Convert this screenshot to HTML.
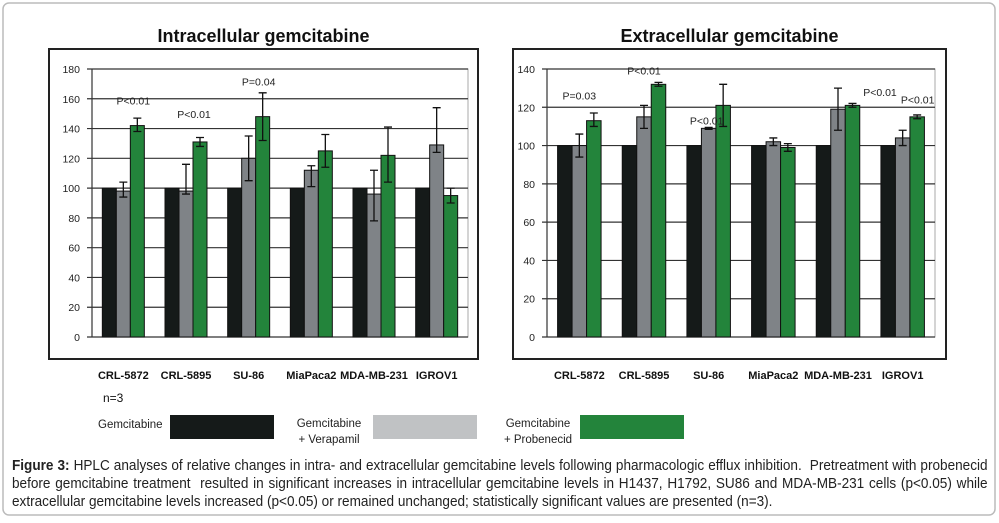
<!DOCTYPE html>
<html><head><meta charset="utf-8">
<style>
body{margin:0;width:999px;height:523px;background:#fff;overflow:hidden;font-family:"Liberation Sans",sans-serif;}
#cap{position:absolute;left:12px;top:457px;font-size:14.6px;line-height:18px;text-align:justify;color:#222;transform:scaleX(0.93);transform-origin:left top;width:1049px;}
</style></head><body>
<svg id="svg" width="999" height="523" style="position:absolute;left:0;top:0">
<rect x="3" y="3" width="992" height="512" rx="6" fill="#fff" stroke="#bbb" stroke-width="1.5"/>
</svg>
<div id="cap"><b>Figure 3:</b> HPLC analyses of relative changes in intra- and extracellular gemcitabine levels following pharmacologic efflux inhibition.&nbsp; Pretreatment with probenecid before gemcitabine treatment&nbsp; resulted in significant increases in intracellular gemcitabine levels in H1437, H1792, SU86 and MDA-MB-231 cells (p&lt;0.05) while extracellular gemcitabine levels increased (p&lt;0.05) or remained unchanged; statistically significant values are presented (n=3).</div>
<script>
const categories=["CRL-5872","CRL-5895","SU-86","MiaPaca2","MDA-MB-231","IGROV1"];
const intraGem=[100,100,100,100,100,100];
const intraVer=[98,98,120,112,96,129];
const intraVerUp=[104,116,135,115,112,154];
const intraVerLo=[94,96,105,101,78,124];
const intraPro=[142,131,148,125,122,95];
const intraProUp=[147,134,164,136,141,100];
const intraProLo=[138,128,132,114,104,90];
const intraTicks=[0,20,40,60,80,100,120,140,160,180];
const intraNotes=[["P<0.01",0,156],["P<0.01",1,147],["P=0.04",2,169]];
const extraGem=[100,100,100,100,100,100];
const extraVer=[100,115,109,102,119,104];
const extraVerUp=[106,121,109.5,104,130,108];
const extraVerLo=[94,109,108.5,100,108,100];
const extraPro=[113,132,121,99,121,115];
const extraProUp=[117,133,132,101,122,116];
const extraProLo=[110,131,110,97,120,114];
const extraTicks=[0,20,40,60,80,100,120,140];
const extraNotes=[["P=0.03",0,124,0],["P<0.01",1,137,0],["P<0.01",2,111,-2],["P<0.01",4,126,42],["P<0.01",5,122,15]];
const NS="http://www.w3.org/2000/svg";
const svg=document.getElementById('svg');
function mk(t,a,p){const e=document.createElementNS(NS,t);for(const k in a)e.setAttribute(k,a[k]);(p||svg).appendChild(e);return e;}
function chart(o){
  const g=mk('g',{});
  
  
  mk('rect',{x:o.fx,y:49,width:o.fw,height:310,fill:'#fff',stroke:'#222','stroke-width':2},g);
  const t=mk('text',{x:o.fx+o.fw/2,y:42,'text-anchor':'middle','font-size':'18','font-weight':'bold',fill:'#111'},g);t.textContent=o.title;
  
  
  const y0=337,y1=69,max=o.ticks[o.ticks.length-1];
  const Y=v=>y0-(v/max)*(y0-y1);
  const cw=(o.x1-o.x0)/categories.length;
  const X=i=>o.x0+i*cw;
  mk('rect',{x:o.x0,y:y1,width:o.x1-o.x0,height:y0-y1,fill:'#fff',stroke:'#aaa'},g);
  o.ticks.forEach(v=>{
    const l=mk('line',{x1:o.x0-5,x2:o.x1,y1:Y(v),y2:Y(v),stroke:'#333','stroke-width':1.2},g);
    
    
    const tx=mk('text',{x:o.x0-12,y:Y(v)+4,'text-anchor':'end','font-size':'10.5',fill:'#222'},g);tx.textContent=v;
    
    
  });
  mk('line',{x1:o.x0,x2:o.x0,y1:y1,y2:y0,stroke:'#333','stroke-width':1.2},g);
  const bw=o.bw, off=(cw-3*bw)/2;
  const series=[[o.gem,null,null,'#151a19'],[o.ver,o.verUp,o.verLo,'#7f8387'],[o.pro,o.proUp,o.proLo,'#23843b']];
  categories.forEach((c,i)=>{
    series.forEach((s,k)=>{
      const x=X(i)+off+k*bw, v=s[0][i];
      const r=mk('rect',{x:x,y:Y(v),width:bw,height:y0-Y(v),fill:s[3],stroke:'#111','stroke-width':1},g);
      
      
      if(s[1]){
        const cx=x+bw/2,a=Y(s[1][i]),b=Y(s[2][i]);
        const e=mk('path',{d:`M${cx},${a}V${b}M${cx-4},${a}H${cx+4}M${cx-4},${b}H${cx+4}`,stroke:'#111','stroke-width':1.3,fill:'none'},g);
        
        
      }
    });
    const lb=mk('text',{x:X(i)+cw/2,y:379,'text-anchor':'middle','font-size':'11','font-weight':'bold',fill:'#111'},g);lb.textContent=c;
    
    
  });
  o.notes.forEach(n=>{
    const tx=mk('text',{x:X(n[1])+cw/2+(n[3]||0),y:Y(n[2]),'text-anchor':'middle','font-size':'10.5',fill:'#222'},g);tx.textContent=n[0];
    
    
  });
}
chart({name:'intracellular-chart',title:'Intracellular gemcitabine',fx:49,fw:429,x0:92,x1:468,bw:14,ticks:intraTicks,gem:intraGem,ver:intraVer,verUp:intraVerUp,verLo:intraVerLo,pro:intraPro,proUp:intraProUp,proLo:intraProLo,notes:intraNotes.map(n=>[n[0],n[1],n[2],[10,8,10][n[1]]])});
chart({name:'extracellular-chart',title:'Extracellular gemcitabine',fx:513,fw:433,x0:547,x1:935,bw:14.5,ticks:extraTicks,gem:extraGem,ver:extraVer,verUp:extraVerUp,verLo:extraVerLo,pro:extraPro,proUp:extraProUp,proLo:extraProLo,notes:extraNotes});
const n3=mk('text',{x:103,y:402,'font-size':'12',fill:'#111'});n3.textContent='n=3';


const leg=[[170,'#151a19',['Gemcitabine'],98],[373,'#c0c2c4',['Gemcitabine','+ Verapamil'],329],[580,'#23843b',['Gemcitabine','+ Probenecid'],538]];
leg.forEach(l=>{
  const r=mk('rect',{x:l[0],y:415,width:104,height:24,fill:l[1]});
  
  
  l[2].forEach((s,j)=>{
    const multi=l[2].length>1;
    const t=mk('text',{x:l[3],y:multi?(427+j*16):428,'font-size':'11.5',fill:'#222','text-anchor':multi?'middle':'start'});
    t.textContent=s;
    
    
  });
});
</script>
</body></html>
